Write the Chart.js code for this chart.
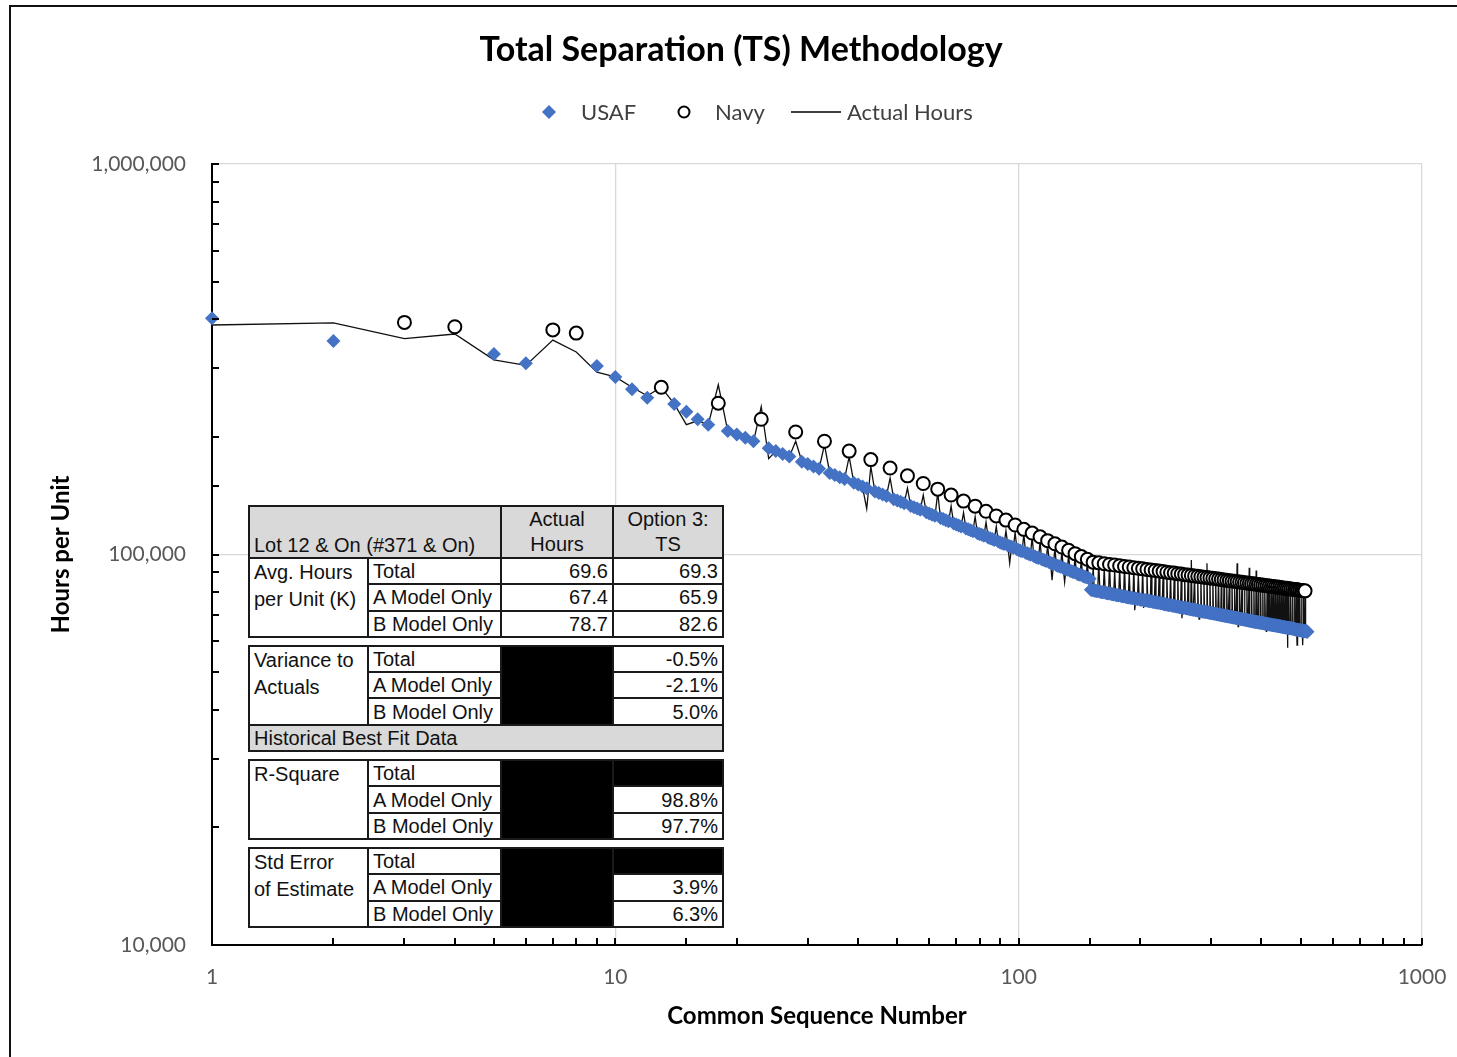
<!DOCTYPE html>
<html>
<head>
<meta charset="utf-8">
<title>Total Separation (TS) Methodology</title>
<script src="https://cdn.jsdelivr.net/npm/chart.js@4.4.1/dist/chart.umd.min.js"></script>
<style>
  html, body { margin: 0; padding: 0; background: #fff; overflow: hidden; }
  #page { position: relative; width: 1457px; height: 1057px; }
  #frame { position: absolute; left: 9px; top: 5px; right: 0; bottom: 0; border-top: 2.5px solid #111; border-left: 2.5px solid #111; }
  #chart { position: absolute; left: 0; top: 0; }
  #title { position: absolute; left: 0; top: 27px; width: 1482px; text-align: center; font: bold 34px Lato, sans-serif; color: #000; }
  .leg { position: absolute; top: 100px; font: 22px Lato, sans-serif; color: #404040; line-height: 24px; }
  .legmark { position: absolute; top: 105px; }
  #stats { position: absolute; left: 248px; top: 505px; border-collapse: collapse; table-layout: fixed; width: 474px;
           font: 20px "Liberation Sans", Arial, sans-serif; color: #111; background: #fff; }
  #stats td { border: 2px solid #1a1a1a; padding: 0 4px; height: 24.3px; line-height: 24px; white-space: nowrap; overflow: hidden; vertical-align: middle; }
  #stats tr.hdr td { background: #d9d9d9; }
  #stats tr.top td { height: 50px; }
  #stats td.lot { vertical-align: bottom; }
  #stats td.c { text-align: center; line-height: 25px; }
  #stats td.n { text-align: right; }
  #stats td.lab { vertical-align: top; line-height: 27px; }
  #stats td.blk { background: #000; }
  #stats tr.gap td { border-left: none; border-right: none; height: 7px; line-height: 7px; padding: 0; background: #fff; }
</style>
</head>
<body>
<div id="page">
  <div id="frame"></div>
  <canvas id="chart" width="1457" height="1057"></canvas>
  <div id="title">Total Separation (TS) Methodology</div>

  <svg class="legmark" style="left:542px" width="14" height="14"><polygon points="7,0 14,7 7,14 0,7" fill="#4472C4"/></svg>
  <span class="leg" style="left:581px">USAF</span>
  <svg class="legmark" style="left:677px" width="14" height="14"><circle cx="7" cy="7" r="5.5" fill="#fff" stroke="#000" stroke-width="2"/></svg>
  <span class="leg" style="left:715px">Navy</span>
  <svg class="legmark" style="left:791px" width="50" height="14"><line x1="0" y1="7" x2="50" y2="7" stroke="#000" stroke-width="1.3"/></svg>
  <span class="leg" style="left:847px">Actual Hours</span>

  <table id="stats">
    <colgroup><col style="width:119px"><col style="width:133px"><col style="width:112px"><col style="width:110px"></colgroup>
    <tr class="hdr top"><td colspan="2" class="lot">Lot 12 &amp; On (#371 &amp; On)</td><td class="c">Actual<br>Hours</td><td class="c">Option 3:<br>TS</td></tr>
    <tr><td rowspan="3" class="lab">Avg. Hours<br>per Unit (K)</td><td>Total</td><td class="n">69.6</td><td class="n">69.3</td></tr>
    <tr><td>A Model Only</td><td class="n">67.4</td><td class="n">65.9</td></tr>
    <tr><td>B Model Only</td><td class="n">78.7</td><td class="n">82.6</td></tr>
    <tr class="gap"><td colspan="4"></td></tr>
    <tr><td rowspan="3" class="lab">Variance to<br>Actuals</td><td>Total</td><td rowspan="3" class="blk"></td><td class="n">-0.5%</td></tr>
    <tr><td>A Model Only</td><td class="n">-2.1%</td></tr>
    <tr><td>B Model Only</td><td class="n">5.0%</td></tr>
    <tr class="hdr"><td colspan="4">Historical Best Fit Data</td></tr>
    <tr class="gap"><td colspan="4"></td></tr>
    <tr><td rowspan="3" class="lab">R-Square</td><td>Total</td><td rowspan="3" class="blk"></td><td class="blk"></td></tr>
    <tr><td>A Model Only</td><td class="n">98.8%</td></tr>
    <tr><td>B Model Only</td><td class="n">97.7%</td></tr>
    <tr class="gap"><td colspan="4"></td></tr>
    <tr><td rowspan="3" class="lab">Std Error<br>of Estimate</td><td>Total</td><td rowspan="3" class="blk"></td><td class="blk"></td></tr>
    <tr><td>A Model Only</td><td class="n">3.9%</td></tr>
    <tr><td>B Model Only</td><td class="n">6.3%</td></tr>
  </table>
</div>

<script>
// units are numbered 1..520, every unit is either USAF or Navy
const unitCount = 520;

const navyUnits = [3, 4, 7, 8, 13, 18, 23, 28, 33, 38, 43, 48, 53, 58, 63, 68, 73, 78, 83, 88, 93, 98,
  103, 108, 113, 118, 123, 128, 133, 138, 143, 148, 153, 158, 163, 168, 173, 178, 183, 188, 193, 198,
  203, 208, 213, 218, 223, 228, 233, 238, 243, 248, 253, 258, 263, 268, 273, 278, 283, 288, 293, 298,
  303, 308, 313, 318, 323, 328, 333, 338, 343, 348, 353, 358, 363, 368, 373, 378, 383, 388, 393, 398,
  403, 408, 413, 418, 423, 428, 433, 438, 443, 448, 453, 458, 463, 468, 473, 478, 483, 488, 493, 498,
  503, 508, 513];

// hours per unit, in thousands
const navyHoursK = [393, 383, 376, 369, 268, 244, 222, 206, 195, 184, 175, 166.5, 159, 152, 147, 142,
  137, 133, 129, 125.5, 122.5, 119, 116, 113.5, 111, 108.5, 106.5, 104.5, 102.5, 100.5, 98.8, 97.2,
  95.6, 95.2, 94.7, 94.3, 94.0, 93.6, 93.2, 92.9, 92.5, 92.2,
  91.9, 91.6, 91.3, 91.0, 90.7, 90.4, 90.1, 89.8, 89.6, 89.3,
  89.1, 88.8, 88.6, 88.4, 88.1, 87.9, 87.7, 87.5, 87.3, 87.1,
  86.9, 86.7, 86.5, 86.3, 86.1, 85.9, 85.7, 85.5, 85.4, 85.2,
  85.0, 84.9, 84.7, 84.5, 84.4, 84.2, 84.1, 83.9, 83.8, 83.6,
  83.5, 83.3, 83.2, 83.0, 82.9, 82.8, 82.6, 82.5, 82.4, 82.2,
  82.1, 82.0, 81.9, 81.7, 81.6, 81.5, 81.4, 81.3, 81.1, 81.0,
  80.9, 80.8, 80.7];

// USAF values for every unit that is not a Navy unit, in unit order
const usafHoursK = [403, 352, 326, 309, 304, 285, 265, 252, 243, 232, 222, 215, 207, 203, 199, 195,
  187.1, 184, 180.9, 178.1, 172.8, 170.4, 168.1, 165.9, 161.7, 159.7, 157.8, 156,
  152.6, 151, 149.4, 147.9, 145, 143.7, 142.4, 141.1, 138.6, 137.5, 136.4, 135.2,
  133.1, 132.1, 131.1, 130.1, 128.3, 127.3, 126.5, 125.6, 124, 123.2, 122.4, 121.6,
  120.1, 119.4, 118.7, 118, 116.6, 116, 115.3, 114.7, 113.4, 112.8, 112.3, 111.7,
  110.6, 110, 109.5, 108.9, 107.9, 107.4, 106.9, 106.4, 105.5, 105, 104.6, 104.1,
  103.2, 102.7, 102.3, 101.9, 101.1, 100.7, 100.3, 99.9, 99.1, 98.7, 98.3, 98,
  97.3, 96.9, 96.6, 96.2, 95.5, 95.2, 94.9, 94.6, 93.9, 93.6, 93.3, 93,
  92.3, 92, 91.7, 91.4, 90.9, 90.6, 90.3, 90, 89.5, 89.2, 88.9, 88.7,
  88.2, 87.9, 87.7, 87.4, 86.9, 86.7, 81.2, 81,
  80.8, 80.7, 80.6, 80.5, 80.3, 80.2, 80.1, 80, 79.8, 79.7, 79.6, 79.5,
  79.3, 79.2, 79.1, 79, 78.8, 78.7, 78.6, 78.5, 78.4, 78.3, 78.2, 78.1,
  77.9, 77.8, 77.7, 77.6, 77.5, 77.5, 77.4, 77.3, 77.1, 77.1, 77, 76.9,
  76.8, 76.7, 76.6, 76.6, 76.4, 76.4, 76.3, 76.2, 76.1, 76, 76, 75.9,
  75.8, 75.7, 75.6, 75.6, 75.4, 75.3, 75.3, 75.2, 75.1, 75, 75, 74.9,
  74.7, 74.6, 74.6, 74.5, 74.4, 74.3, 74.3, 74.2, 74.1, 74, 73.9, 73.9,
  73.8, 73.7, 73.6, 73.6, 73.5, 73.4, 73.3, 73.3, 73.2, 73.1, 73.1, 73,
  72.9, 72.8, 72.8, 72.7, 72.6, 72.6, 72.5, 72.4, 72.3, 72.3, 72.2, 72.2,
  72.1, 72, 72, 71.9, 71.8, 71.8, 71.7, 71.7, 71.6, 71.5, 71.5, 71.4,
  71.3, 71.3, 71.2, 71.2, 71.1, 71, 71, 70.9, 70.8, 70.8, 70.7, 70.7,
  70.6, 70.6, 70.5, 70.5, 70.4, 70.3, 70.3, 70.2, 70.2, 70.1, 70.1, 70,
  69.9, 69.9, 69.8, 69.8, 69.7, 69.7, 69.6, 69.6, 69.5, 69.5, 69.4, 69.4,
  69.3, 69.3, 69.2, 69.2, 69.1, 69.1, 69, 69, 68.9, 68.9, 68.8, 68.8,
  68.7, 68.7, 68.6, 68.6, 68.5, 68.5, 68.4, 68.4, 68.3, 68.3, 68.2, 68.2,
  68.1, 68.1, 68, 68, 67.9, 67.9, 67.8, 67.8, 67.7, 67.7, 67.6, 67.6,
  67.5, 67.5, 67.4, 67.4, 67.3, 67.3, 67.3, 67.2, 67.2, 67.2, 67.1, 67.1,
  67, 67, 66.9, 66.9, 66.9, 66.9, 66.8, 66.8, 66.7, 66.7, 66.6, 66.6,
  66.5, 66.5, 66.5, 66.4, 66.4, 66.3, 66.3, 66.3, 66.2, 66.2, 66.2, 66.1,
  66.1, 66, 66, 66, 65.9, 65.9, 65.9, 65.8, 65.8, 65.8, 65.7, 65.7,
  65.6, 65.6, 65.6, 65.5, 65.5, 65.5, 65.4, 65.4, 65.3, 65.3, 65.3, 65.2,
  65.2, 65.2, 65.1, 65.1, 65, 65, 65, 64.9, 64.9, 64.9, 64.8, 64.8,
  64.8, 64.8, 64.7, 64.7, 64.7, 64.6, 64.6, 64.6, 64.5, 64.5, 64.5, 64.4,
  64.4, 64.4, 64.3, 64.3, 64.2, 64.2, 64.2, 64.1, 64.1, 64.1, 64, 64,
  64, 64, 63.9, 63.9, 63.9, 63.8, 63.8, 63.8, 63.7, 63.7, 63.7, 63.6,
  63.6, 63.6, 63.6, 63.5, 63.5, 63.5, 63.4];

// actual hours for units 1..520, in thousands
const actualHoursK = [387, 392, 357, 367, 315, 305, 354, 330, 293, 285,
  268, 255, 268, 243, 215, 220, 215, 272, 207, 202, 198, 194, 239, 176, 184,
  181, 178, 195, 173, 170, 168, 166, 191, 162, 160, 158, 156, 178, 153, 151,
  149, 131, 168, 145, 144, 142, 141, 157, 139, 137, 136, 135, 148, 133, 132,
  131, 130, 142, 128, 127, 126, 125, 144, 124, 123, 122, 121, 133, 120, 119,
  118.5, 118, 128, 116.5, 116, 115.3, 114.7, 125, 113.4, 112.8,
  112.3, 111.7, 121, 110.6, 110, 109.5, 108.9, 118, 107.9, 107.4,
  106.9, 106.4, 115, 105.5, 95, 104.6, 104.1, 114, 103.2, 102.7,
  102.3, 101.9, 113, 101.1, 100.7, 100.3, 99.9, 111, 99.1, 98.7,
  98.3, 98, 108, 97.3, 96.9, 96.6, 96.2, 106, 95.5, 95.2,
  86, 94.6, 104, 93.9, 93.6, 93.3, 93, 102, 92.3, 85,
  91.7, 91.4, 100, 90.9, 90.6, 90.3, 90, 99, 89.5, 89.2,
  88.9, 88.7, 97.5, 88.2, 87.9, 87.7, 87.4, 96, 86.9, 86.7,
  81.2, 81, 93, 80.8, 80.7, 80.6, 80.5, 96, 80.3, 80.2,
  80.1, 80, 92, 79.8, 79.7, 79.6, 79.5, 95, 79.3, 79.2,
  79.1, 79, 91, 78.8, 78.7, 78.6, 78.5, 93, 78.4, 78.3,
  78.2, 78.1, 94, 77.9, 77.8, 77.7, 77.6, 90, 77.5, 77.5,
  77.4, 77.3, 93, 72, 77.1, 77, 76.9, 89, 76.8, 76.7,
  76.6, 76.6, 92, 73, 76.4, 76.3, 76.2, 90, 76.1, 76,
  76, 75.9, 92, 75.8, 75.7, 75.6, 75.6, 89, 75.4, 75.3,
  75.3, 75.2, 91, 75.1, 75, 75, 74.9, 88, 74.7, 74.6,
  74.6, 74.5, 91, 74.4, 74.3, 74.3, 74.2, 90, 74.1, 74,
  73.9, 73.9, 88, 73.8, 73.7, 73.6, 73.6, 90, 73.5, 73.4,
  73.3, 73.3, 88, 68.7, 73.1, 73.1, 73, 89, 72.9, 72.8,
  72.8, 72.7, 87, 72.6, 72.6, 72.5, 72.4, 96.8, 72.3, 72.3,
  72.2, 72.2, 88, 72.1, 72, 72, 71.9, 87, 71.8, 68.3,
  71.7, 71.7, 89, 71.6, 71.5, 71.5, 71.4, 86, 71.3, 71.3,
  71.2, 71.2, 95, 71.1, 71, 71, 70.9, 87, 70.8, 70.8,
  70.7, 70.7, 88, 70.6, 70.6, 70.5, 70.5, 86, 70.4, 70.3,
  70.3, 74, 87, 70.2, 70.1, 70.1, 70, 86, 69.9, 69.9,
  69.8, 69.8, 87, 69.7, 69.7, 69.6, 69.6, 85, 69.5, 69.5,
  69.4, 69.4, 86, 69.3, 69.3, 69.2, 72, 87, 69.1, 69.1,
  69, 69, 85, 68.9, 68.9, 68.8, 68.8, 95, 68.7, 65.4,
  68.6, 68.6, 85, 68.5, 68.5, 68.4, 68.4, 86, 68.3, 68.3,
  68.2, 68.2, 84, 68.1, 68.1, 68, 68, 85, 67.9, 67.9,
  67.8, 67.8, 92.5, 67.7, 67.7, 67.6, 67.6, 84, 67.5, 67.5,
  67.4, 67.4, 85, 67.3, 67.3, 67.3, 67.2, 91, 67.2, 67.2,
  67.1, 67.1, 84, 67, 67, 66.9, 66.9, 85, 66.9, 66.9,
  66.8, 66.8, 83, 66.7, 66.7, 66.6, 66.6, 84, 66.5, 66.5,
  63.6, 66.4, 83, 66.4, 66.3, 66.3, 66.3, 85, 66.2, 66.2,
  66.2, 66.1, 83, 66.1, 66, 66, 66, 82, 65.9, 65.9,
  65.9, 65.8, 84, 65.8, 65.8, 65.7, 65.7, 82, 65.6, 65.6,
  65.6, 65.5, 83, 65.5, 65.5, 65.4, 65.4, 82, 65.3, 65.3,
  65.3, 65.2, 83, 65.2, 65.2, 65.1, 65.1, 81, 65, 65,
  65, 64.9, 82, 57.7, 64.9, 64.8, 64.8, 83, 64.8, 64.8,
  64.7, 64.7, 81, 64.7, 64.6, 64.6, 64.6, 82, 64.5, 64.5,
  64.5, 64.4, 81, 64.4, 64.4, 64.3, 64.3, 83, 64.2, 58.6,
  64.2, 64.1, 80, 64.1, 64.1, 64, 64, 81, 64, 64,
  63.9, 63.9, 82, 63.9, 63.8, 58.6, 63.8, 80, 63.7, 63.7,
  63.7, 63.6, 81, 63.6, 63.6, 63.6, 63.5, 63.5, 63.5, 63.4];

const xMajorTicks = [1, 10, 100, 1000];
const yMajorTicks = [10000, 100000, 1000000];

const usafUnits = [];
for (let u = 1; u <= unitCount; u++) {
  if (!navyUnits.includes(u)) usafUnits.push(u);
}

function isMajor(list, v) {
  return list.some((t) => Math.abs(t - v) < t * 1e-6);
}

// small tick marks pointing into the plot, like the original
const inwardTicks = {
  id: "inwardTicks",
  afterDraw(chart) {
    const { ctx, chartArea } = chart;
    const x = chart.scales.x;
    const y = chart.scales.y;
    ctx.save();
    ctx.strokeStyle = "#000";
    ctx.lineWidth = 2;
    x.ticks.forEach((t) => {
      const px = Math.round(x.getPixelForValue(t.value));
      ctx.beginPath();
      ctx.moveTo(px, chartArea.bottom);
      ctx.lineTo(px, chartArea.bottom - 7);
      ctx.stroke();
    });
    y.ticks.forEach((t) => {
      const py = Math.round(y.getPixelForValue(t.value));
      ctx.beginPath();
      ctx.moveTo(chartArea.left, py);
      ctx.lineTo(chartArea.left + 7, py);
      ctx.stroke();
    });
    ctx.restore();
  }
};

function drawChart() {
  const ctx = document.getElementById("chart").getContext("2d");
  new Chart(ctx, {
    type: "scatter",
    data: {
      datasets: [
        {
          label: "Navy",
          data: navyUnits.map((u, i) => ({ x: u, y: navyHoursK[i] * 1000 })),
          pointStyle: "circle",
          pointRadius: 6.5,
          backgroundColor: "#fff",
          borderColor: "#000",
          borderWidth: 2,
          clip: false,
          order: 0
        },
        {
          label: "USAF",
          data: usafUnits.map((u, i) => ({ x: u, y: usafHoursK[i] * 1000 })),
          pointStyle: "rectRot",
          pointRadius: 7,
          backgroundColor: "#4472C4",
          borderColor: "#4472C4",
          borderWidth: 0,
          clip: false,
          order: 1
        },
        {
          label: "Actual Hours",
          data: actualHoursK.map((v, i) => ({ x: i + 1, y: v * 1000 })),
          showLine: true,
          pointRadius: 0,
          borderColor: "#111",
          borderWidth: 1.3,
          tension: 0,
          order: 2
        }
      ]
    },
    options: {
      responsive: false,
      animation: false,
      layout: { padding: { top: 164, right: 35, left: 0, bottom: 0 } },
      plugins: {
        legend: { display: false },
        title: { display: false },
        tooltip: { enabled: false }
      },
      scales: {
        x: {
          type: "logarithmic",
          min: 1,
          max: 1000,
          border: { color: "#000", width: 2 },
          grid: {
            drawTicks: false,
            lineWidth: 1.3,
            color: (c) => (c.tick && isMajor(xMajorTicks, c.tick.value) ? "#d9d9d9" : "rgba(0,0,0,0)")
          },
          ticks: {
            autoSkip: false,
            maxRotation: 0,
            padding: 20,
            color: "#595959",
            font: { family: "Lato", size: 21 },
            callback: (v) => (isMajor(xMajorTicks, v) ? String(v) : "")
          },
          title: {
            display: true,
            text: "Common Sequence Number",
            color: "#000",
            font: { family: "Lato", size: 24, weight: "bold" },
            padding: { bottom: 26 }
          },
          afterFit: (s) => {
            s.height = 112;
            s.paddingLeft = 0;
            s.paddingRight = 0;
          }
        },
        y: {
          type: "logarithmic",
          min: 10000,
          max: 1000000,
          border: { color: "#000", width: 2 },
          grid: {
            drawTicks: false,
            lineWidth: 1.3,
            color: (c) => (c.tick && isMajor(yMajorTicks, c.tick.value) ? "#d9d9d9" : "rgba(0,0,0,0)")
          },
          ticks: {
            autoSkip: false,
            padding: 26,
            color: "#595959",
            font: { family: "Lato", size: 21 },
            callback: (v) => (isMajor(yMajorTicks, v) ? Number(v).toLocaleString("en-US") : "")
          },
          title: {
            display: true,
            text: "Hours per Unit",
            color: "#000",
            font: { family: "Lato", size: 24, weight: "bold" },
            padding: { top: 47 }
          },
          afterFit: (s) => {
            s.width = 212;
            s.paddingTop = 0;
            s.paddingBottom = 0;
          }
        }
      }
    },
    plugins: [inwardTicks]
  });
}

document.fonts.load("21px Lato").then(drawChart, drawChart);
</script>
</body>
</html>
